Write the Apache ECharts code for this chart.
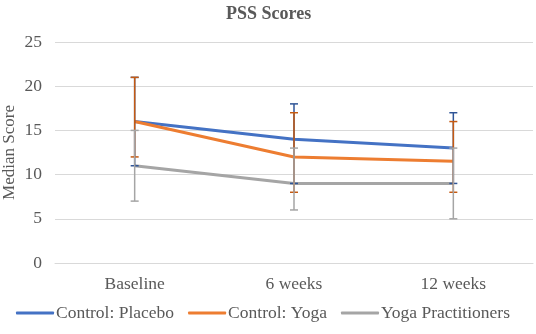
<!DOCTYPE html>
<html>
<head>
<meta charset="utf-8">
<script src="https://cdn.jsdelivr.net/npm/echarts@6/dist/echarts.min.js"></script>
<style>
  html, body { margin: 0; padding: 0; background: #fff; }
  #main { width: 536px; height: 334px; }
</style>
</head>
<body>
<div id="main"></div>
<script>
    var categories = ['Baseline', '6 weeks', '12 weeks'];
    var seriesNames = ['Control: Placebo', 'Control: Yoga', 'Yoga Practitioners'];

    // median values
    var placeboMedian = [16, 14, 13];
    var yogaMedian = [16, 12, 11.5];
    var practMedian = [11, 9, 9];

    // error bar ends
    var placeboUpper = [21, 18, 17];
    var placeboLower = [11, 9, 9];
    var yogaUpper = [21, 17, 16];
    var yogaLower = [12, 8, 8];
    var practUpper = [15, 13, 13];
    var practLower = [7, 6, 5];

    var lineColors = ['#4472C4', '#ED7D31', '#A5A5A5'];
    var barColors = ['#2F5597', '#C55A11', '#A5A5A5'];
    var font = 'Liberation Serif';

    var chart = echarts.init(document.getElementById('main'));

    function errorSeries(name, upper, lower, color) {
        var data = [];
        for (var i = 0; i < categories.length; i++) {
            data.push([i, lower[i], upper[i]]);
        }
        return {
            name: name,
            type: 'custom',
            silent: true,
            z: 3,
            renderItem: function (params, api) {
                var x = api.value(0);
                var lo = api.coord([x, api.value(1)]);
                var hi = api.coord([x, api.value(2)]);
                var w = 4;
                var st = { stroke: color, lineWidth: 1.5 };
                return {
                    type: 'group',
                    children: [
                        { type: 'line', shape: { x1: hi[0], y1: hi[1], x2: lo[0], y2: lo[1] }, style: st },
                        { type: 'line', shape: { x1: hi[0] - w, y1: hi[1], x2: hi[0] + w, y2: hi[1] }, style: st },
                        { type: 'line', shape: { x1: lo[0] - w, y1: lo[1], x2: lo[0] + w, y2: lo[1] }, style: st }
                    ]
                };
            },
            data: data
        };
    }

    function lineSeries(name, values, color) {
        return {
            name: name,
            type: 'line',
            data: values,
            symbol: 'none',
            z: 2,
            lineStyle: { color: color, width: 3 },
            itemStyle: { color: color }
        };
    }

    var options = {
        animation: false,
        title: {
            text: 'PSS Scores',
            left: 221,
            top: 0,
            textStyle: { fontFamily: font, fontSize: 18, fontWeight: 'bold', color: '#595959' }
        },
        legend: {
            data: seriesNames,
            bottom: 7,
            left: 11,
            itemWidth: 38,
            itemHeight: 3,
            itemGap: 14,
            icon: 'roundRect',
            textStyle: { fontFamily: font, fontSize: 17.5, color: '#595959', padding: [0, 0, 0, -3] }
        },
        grid: { left: 55, right: 3, top: 42, bottom: 71, outerBoundsMode: 'none' },
        xAxis: {
            type: 'category',
            data: categories,
            boundaryGap: true,
            axisLine: { show: true, lineStyle: { color: '#D9D9D9', width: 1 } },
            axisTick: { show: false },
            axisLabel: { fontFamily: font, fontSize: 17.5, color: '#595959', margin: 12 }
        },
        yAxis: {
            type: 'value',
            min: 0,
            max: 25,
            interval: 5,
            name: 'Median Score',
            nameLocation: 'middle',
            nameGap: 37,
            nameMoveOverlap: false,
            nameTextStyle: { fontFamily: font, fontSize: 17, color: '#595959' },
            axisLine: { show: false },
            axisTick: { show: false },
            axisLabel: { fontFamily: font, fontSize: 17.5, color: '#595959', margin: 13 },
            splitLine: { lineStyle: { color: '#D9D9D9', width: 1 } }
        },
        series: [
            lineSeries(seriesNames[0], placeboMedian, lineColors[0]),
            lineSeries(seriesNames[1], yogaMedian, lineColors[1]),
            lineSeries(seriesNames[2], practMedian, lineColors[2]),
            errorSeries(seriesNames[0], placeboUpper, placeboLower, barColors[0]),
            errorSeries(seriesNames[1], yogaUpper, yogaLower, barColors[1]),
            errorSeries(seriesNames[2], practUpper, practLower, barColors[2])
        ]
    };
    chart.setOption(options, true);
</script>
</body>
</html>
